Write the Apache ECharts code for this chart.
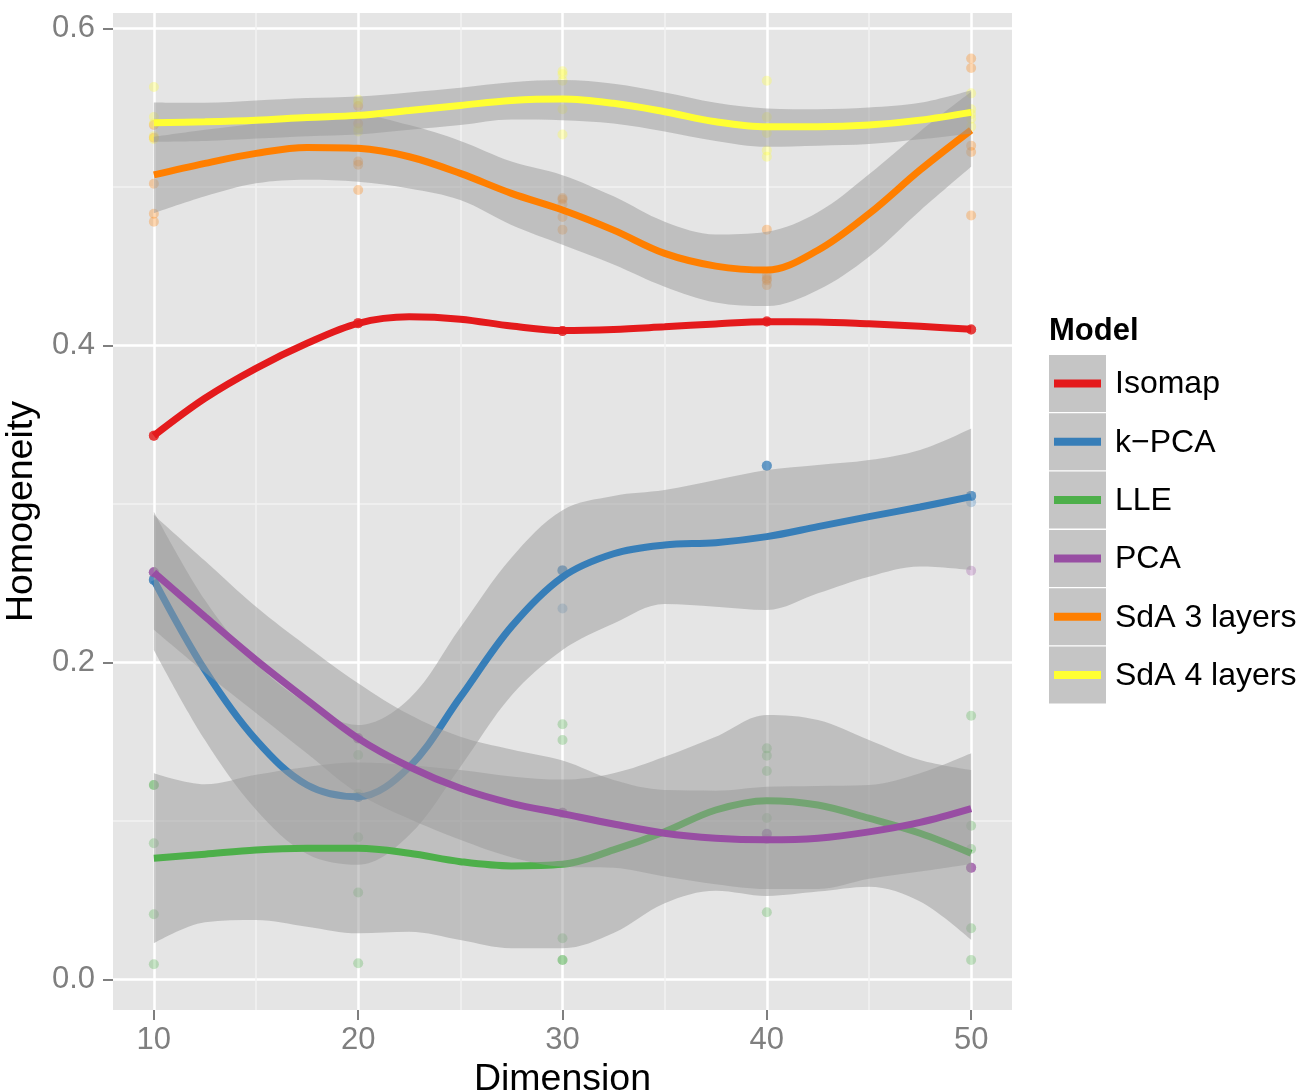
<!DOCTYPE html>
<html>
<head>
<meta charset="utf-8">
<script src="https://cdn.jsdelivr.net/npm/echarts@6/dist/echarts.min.js"></script>
<style>
  html, body { margin: 0; padding: 0; background: #ffffff; }
  #chart { width: 1303px; height: 1090px; }
</style>
</head>
<body>
<div id="chart"></div>
<script>
// Homogeneity of clusterings versus embedding dimension, five runs per model,
// with a loess fit and its confidence band for every model.

const models = ['Isomap', 'k\u2212PCA', 'LLE', 'PCA', 'SdA 3 layers', 'SdA 4 layers'];
const colors = ['#E41A1C', '#377EB8', '#4DAF4A', '#984EA3', '#FF7F00', '#FFFF33'];

const dims = [10, 20, 30, 40, 50];
const xTicks = [10, 20, 30, 40, 50];
const xMinor = [15, 25, 35, 45];
const yTicks = [0, 0.2, 0.4, 0.6];
const yMinor = [0.1, 0.3, 0.5];

// individual runs (one row per dimension)
const runsIsomap = [
  [0.343, 0.343, 0.343, 0.343, 0.343],
  [0.414, 0.414, 0.414, 0.414, 0.414],
  [0.409, 0.409, 0.409, 0.409, 0.409],
  [0.415, 0.415, 0.415, 0.415, 0.415],
  [0.410, 0.410, 0.410, 0.410, 0.410]
];
const runsKPCA = [
  [0.252, 0.252, 0.252, 0.252, 0.252],
  [0.115, 0.115, 0.115, 0.115, 0.115],
  [0.258, 0.258, 0.258, 0.258, 0.234],
  [0.324, 0.324, 0.324, 0.324, 0.092],
  [0.305, 0.305, 0.305, 0.305, 0.301]
];
const runsLLE = [
  [0.1226, 0.1226, 0.0858, 0.041, 0.0095],
  [0.1415, 0.117, 0.0896, 0.0547, 0.0101],
  [0.1609, 0.151, 0.0259, 0.0122, 0.0122],
  [0.1457, 0.1411, 0.1314, 0.1017, 0.0423],
  [0.1663, 0.0969, 0.0822, 0.0322, 0.0122]
];
const runsPCA = [
  [0.2568, 0.2568, 0.2568, 0.2568, 0.2568],
  [0.152, 0.152, 0.152, 0.152, 0.152],
  [0.105, 0.105, 0.105, 0.105, 0.105],
  [0.0917, 0.0917, 0.0917, 0.0885, 0.0885],
  [0.2578, 0.0704, 0.0704, 0.0704, 0.0704]
];
const runsSdA3 = [
  [0.539, 0.531, 0.502, 0.483, 0.478],
  [0.551, 0.540, 0.516, 0.514, 0.498],
  [0.493, 0.492, 0.489, 0.481, 0.473],
  [0.473, 0.444, 0.442, 0.441, 0.438],
  [0.581, 0.575, 0.526, 0.522, 0.482]
];
const runsSdA4 = [
  [0.563, 0.544, 0.540, 0.532, 0.530],
  [0.555, 0.553, 0.545, 0.537, 0.535],
  [0.573, 0.571, 0.567, 0.549, 0.533],
  [0.567, 0.544, 0.534, 0.523, 0.519],
  [0.559, 0.549, 0.546, 0.543, 0.538]
];

// loess fits and confidence limits, sampled along the dimension axis
const fitX = [10, 12.5, 15, 17.5, 20, 22.5, 25, 27.5, 30, 32.5, 35, 37.5, 40, 42.5, 45, 47.5, 50];

const fitIsomap = [0.343, 0.3666, 0.3855, 0.4013, 0.4139, 0.418, 0.4165, 0.4122, 0.4093, 0.41, 0.4117, 0.4135, 0.4149, 0.4148, 0.4136, 0.412, 0.4101];

const fitKPCA  = [0.2519, 0.195, 0.151, 0.1226, 0.1152, 0.134, 0.178, 0.2225, 0.2538, 0.2685, 0.274, 0.2755, 0.2793, 0.2856, 0.2919, 0.298, 0.3045];
const lowKPCA  = [0.2078, 0.151, 0.107, 0.079, 0.0722, 0.091, 0.134, 0.179, 0.2078, 0.2245, 0.2368, 0.2351, 0.233, 0.2435, 0.254, 0.2604, 0.2582];
const highKPCA = [0.295, 0.2393, 0.1994, 0.1741, 0.1604, 0.177, 0.222, 0.266, 0.296, 0.305, 0.3087, 0.315, 0.3213, 0.3245, 0.3276, 0.334, 0.3476];

const fitLLE  = [0.0763, 0.0789, 0.0816, 0.0826, 0.0826, 0.0795, 0.0742, 0.0715, 0.0725, 0.0816, 0.0931, 0.1068, 0.1127, 0.11, 0.1016, 0.0921, 0.0795];
const lowLLE  = [0.0227, 0.036, 0.0374, 0.0332, 0.029, 0.03, 0.0248, 0.0196, 0.0196, 0.0292, 0.048, 0.0559, 0.0526, 0.0553, 0.0584, 0.049, 0.0248];
const highLLE = [0.13, 0.123, 0.129, 0.134, 0.1367, 0.135, 0.132, 0.128, 0.126, 0.13, 0.1404, 0.153, 0.1668, 0.1636, 0.151, 0.1383, 0.132];

const fitPCA  = [0.2568, 0.2288, 0.2015, 0.1762, 0.152, 0.1341, 0.1205, 0.111, 0.1045, 0.098, 0.0921, 0.089, 0.088, 0.089, 0.093, 0.099, 0.1077];
const lowPCA  = [0.2206, 0.1936, 0.168, 0.1424, 0.1172, 0.1012, 0.088, 0.077, 0.071, 0.0703, 0.0648, 0.06, 0.057, 0.057, 0.0634, 0.068, 0.0728];
const highPCA = [0.293, 0.264, 0.235, 0.21, 0.1868, 0.167, 0.153, 0.145, 0.138, 0.1257, 0.1194, 0.119, 0.1215, 0.122, 0.1226, 0.13, 0.1426];

const fitSdA3  = [0.5075, 0.5148, 0.5211, 0.5249, 0.5243, 0.519, 0.5085, 0.4959, 0.4854, 0.4727, 0.458, 0.45, 0.4475, 0.46, 0.483, 0.5106, 0.5358];
const lowSdA3  = [0.4833, 0.494, 0.5022, 0.5045, 0.5032, 0.499, 0.4917, 0.476, 0.4635, 0.451, 0.437, 0.427, 0.4248, 0.4349, 0.4559, 0.485, 0.5127];
const highSdA3 = [0.5316, 0.536, 0.54, 0.545, 0.5454, 0.539, 0.529, 0.516, 0.5074, 0.494, 0.478, 0.47, 0.4717, 0.484, 0.508, 0.535, 0.56];

const fitSdA4  = [0.5405, 0.5411, 0.5421, 0.5438, 0.5451, 0.5482, 0.5514, 0.5545, 0.5554, 0.5527, 0.5474, 0.5411, 0.5379, 0.5379, 0.539, 0.5421, 0.547];
const lowSdA4  = [0.5285, 0.529, 0.5305, 0.532, 0.533, 0.536, 0.539, 0.5425, 0.5421, 0.54, 0.535, 0.529, 0.5253, 0.526, 0.527, 0.53, 0.5337];
const highSdA4 = [0.5533, 0.553, 0.5545, 0.556, 0.557, 0.5595, 0.5625, 0.566, 0.5674, 0.565, 0.5595, 0.553, 0.5495, 0.549, 0.55, 0.553, 0.561];

const runs  = [runsIsomap, runsKPCA, runsLLE, runsPCA, runsSdA3, runsSdA4];
const fits  = [fitIsomap, fitKPCA, fitLLE, fitPCA, fitSdA3, fitSdA4];
const bands = [null, [lowKPCA, highKPCA], [lowLLE, highLLE], [lowPCA, highPCA], [lowSdA3, highSdA3], [lowSdA4, highSdA4]];

const yMin = -0.0194, yMax = 0.6097;
const SMOOTH = 0.35;
const FONT = '"Liberation Sans", Arial, Helvetica, sans-serif';
const GREY_TEXT = '#7F7F7F';

// Bezier segments through pixel points, built the same way the line series smooths its path.
function smoothSegments(pts, smooth) {
  let d = '';
  let cp0x = pts[0][0], cp0y = pts[0][1];
  for (let i = 1; i < pts.length; i++) {
    const x = pts[i][0], y = pts[i][1];
    const px = pts[i - 1][0], py = pts[i - 1][1];
    let cp1x, cp1y, ncx = x, ncy = y;
    if (i === pts.length - 1) {
      cp1x = x; cp1y = y;
    } else {
      const nx = pts[i + 1][0], ny = pts[i + 1][1];
      let vx = nx - px, vy = ny - py;
      const lenPrev = Math.hypot(x - px, y - py);
      const lenNext = Math.hypot(nx - x, ny - y);
      const ratio = lenNext / (lenNext + lenPrev);
      ncx = x + vx * smooth * ratio; ncy = y + vy * smooth * ratio;
      ncx = Math.max(Math.min(ncx, Math.max(nx, x)), Math.min(nx, x));
      ncy = Math.max(Math.min(ncy, Math.max(ny, y)), Math.min(ny, y));
      vx = ncx - x; vy = ncy - y;
      cp1x = x - vx * lenPrev / lenNext; cp1y = y - vy * lenPrev / lenNext;
      cp1x = Math.max(Math.min(cp1x, Math.max(px, x)), Math.min(px, x));
      cp1y = Math.max(Math.min(cp1y, Math.max(py, y)), Math.min(py, y));
      vx = x - cp1x; vy = y - cp1y;
      ncx = x + vx * lenNext / lenPrev; ncy = y + vy * lenNext / lenPrev;
    }
    d += 'C' + cp0x + ',' + cp0y + ' ' + cp1x + ',' + cp1y + ' ' + x + ',' + y;
    cp0x = ncx; cp0y = ncy;
  }
  return d;
}

function ribbonRenderer(lo, hi) {
  return function (params, api) {
    if (params.dataIndex !== 0) return null;
    const top = fitX.map((x, i) => api.coord([x, hi[i]]));
    const bot = fitX.map((x, i) => api.coord([x, lo[i]])).reverse();
    const d = 'M' + top[0][0] + ',' + top[0][1] + smoothSegments(top, SMOOTH) +
              'L' + bot[0][0] + ',' + bot[0][1] + smoothSegments(bot, SMOOTH) + 'Z';
    return {
      type: 'path',
      shape: { pathData: d },
      style: { fill: 'rgba(153,153,153,0.5)', stroke: null }
    };
  };
}

const series = [];

// raw runs underneath everything else
models.forEach((m, k) => {
  const pts = [];
  runs[k].forEach((vals, i) => vals.forEach(v => pts.push([dims[i], v])));
  series.push({
    type: 'scatter', name: m, xAxisIndex: 1, yAxisIndex: 1,
    data: pts, symbol: 'circle', symbolSize: 10,
    itemStyle: { color: colors[k], opacity: 0.3 },
    z: 2, silent: true, animation: false
  });
});

// each model: confidence band, then its fitted curve
models.forEach((m, k) => {
  if (bands[k]) {
    const lo = bands[k][0], hi = bands[k][1];
    series.push({
      type: 'custom', name: m + ' band', xAxisIndex: 1, yAxisIndex: 1,
      data: fitX.map((x, i) => [x, lo[i], hi[i]]),
      encode: { x: 0, y: [1, 2] },
      renderItem: ribbonRenderer(lo, hi),
      z: 3 + 2 * k, silent: true, animation: false
    });
  }
  series.push({
    type: 'line', name: m, xAxisIndex: 1, yAxisIndex: 1,
    data: fitX.map((x, i) => [x, fits[k][i]]),
    smooth: SMOOTH, showSymbol: false, symbol: 'none',
    lineStyle: { color: colors[k], width: 7, cap: 'butt' },
    itemStyle: { color: colors[k] },
    z: 4 + 2 * k, silent: true, animation: false
  });
});

// legend drawn as keys: grey band swatch with the model's line, then the label
const keyLeft = 1049, keyTop = 355, keyPitch = 58.3, keySize = 57;
const legendItems = [{
  type: 'text', x: keyLeft, y: 331,
  style: { text: 'Model', fontSize: 31, fontWeight: 'bold', fontFamily: FONT, fill: '#000000', align: 'left', verticalAlign: 'middle' }
}];
models.forEach((m, k) => {
  const top = keyTop + k * keyPitch;
  const cy = top + keySize / 2;
  legendItems.push({ type: 'rect', shape: { x: keyLeft, y: top, width: keySize, height: keySize }, style: { fill: '#C5C5C5' } });
  legendItems.push({ type: 'line', shape: { x1: keyLeft + 5, y1: cy, x2: keyLeft + 52, y2: cy }, style: { stroke: colors[k], lineWidth: 8 } });
  legendItems.push({
    type: 'text', x: 1115, y: cy + 1,
    style: { text: m, fontSize: 32, fontFamily: FONT, fill: '#000000', align: 'left', verticalAlign: 'middle' }
  });
});

const chart = echarts.init(document.getElementById('chart'), null, { renderer: 'canvas' });
chart.setOption({
  animation: false,
  backgroundColor: '#ffffff',
  grid: {
    left: 113, top: 13, width: 899, height: 997,
    show: true, backgroundColor: '#E5E5E5', borderWidth: 0,
    containLabel: false, outerBoundsMode: 'none'
  },
  xAxis: [
    {
      type: 'value', min: 8, max: 52, position: 'top',
      axisLine: { show: false, onZero: false },
      axisTick: { show: false, customValues: xMinor },
      axisLabel: { show: false, customValues: xMinor },
      splitLine: { show: true, lineStyle: { color: '#F2F2F2', width: 1.5 } }
    },
    {
      type: 'value', min: 8, max: 52, position: 'bottom',
      axisLine: { show: false, onZero: false },
      axisTick: { show: true, length: 10, customValues: xTicks, lineStyle: { color: GREY_TEXT, width: 2 } },
      axisLabel: { customValues: xTicks, color: GREY_TEXT, fontSize: 31, fontFamily: FONT, margin: 15 },
      splitLine: { show: true, lineStyle: { color: '#FFFFFF', width: 2.5 } },
      name: 'Dimension', nameLocation: 'middle', nameGap: 45,
      nameTextStyle: { color: '#000000', fontSize: 37.5, fontFamily: FONT }
    }
  ],
  yAxis: [
    {
      type: 'value', min: yMin, max: yMax, position: 'right',
      axisLine: { show: false, onZero: false },
      axisTick: { show: false, customValues: yMinor },
      axisLabel: { show: false, customValues: yMinor },
      splitLine: { show: true, lineStyle: { color: '#F2F2F2', width: 1.5 } }
    },
    {
      type: 'value', min: yMin, max: yMax, position: 'left',
      axisLine: { show: false, onZero: false },
      axisTick: { show: true, length: 10, customValues: yTicks, lineStyle: { color: GREY_TEXT, width: 2 } },
      axisLabel: { customValues: yTicks, formatter: v => v.toFixed(1), color: GREY_TEXT, fontSize: 31, fontFamily: FONT, margin: 18 },
      splitLine: { show: true, lineStyle: { color: '#FFFFFF', width: 2.5 } },
      name: 'Homogeneity', nameLocation: 'middle', nameGap: 62, nameRotate: 90,
      nameTextStyle: { color: '#000000', fontSize: 37.5, fontFamily: FONT }
    }
  ],
  series: series,
  graphic: legendItems
});
</script>
</body>
</html>
